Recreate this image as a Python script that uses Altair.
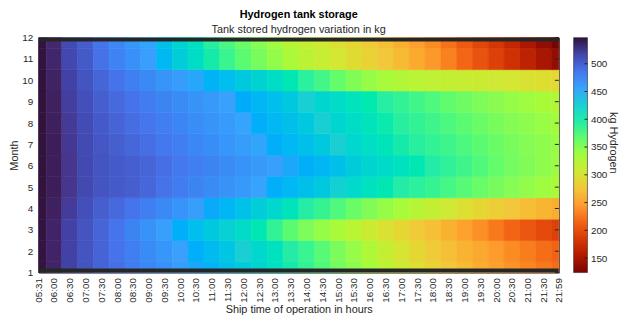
import altair as alt
import pandas as pd
import numpy as np

# ---------------- data ----------------
times = ["05:31", "06:00", "06:30", "07:00", "07:30", "08:00", "08:30", "09:00",
         "09:30", "10:00", "10:30", "11:00", "11:30", "12:00", "12:30", "13:00",
         "13:30", "14:00", "14:30", "15:00", "15:30", "16:00", "16:30", "17:00",
         "17:30", "18:00", "18:30", "19:00", "19:30", "20:00", "20:30", "21:00",
         "21:30", "21:59"]
months = [1, 2, 3, 4, 5, 6, 7, 8, 9, 10, 11, 12]

jan = [545, 534, 518, 507, 497, 490, 482, 475, 468, 460, 453, 446, 438, 430, 421, 410, 398,
       385, 372, 358, 347, 335, 322, 310, 298, 287, 277, 268, 258, 249, 240, 233, 226, 220]
feb = [545, 534, 518, 507, 497, 488, 480, 472, 465, 457, 450, 442, 434, 426, 418, 408, 396,
       383, 370, 355, 342, 330, 316, 302, 290, 280, 270, 262, 254, 245, 236, 228, 220, 214]
mar = [545, 534, 518, 507, 496, 487, 477, 467, 458, 450, 440, 432, 424, 414, 402, 386, 368,
       354, 343, 333, 323, 312, 300, 290, 280, 270, 260, 250, 238, 226, 215, 205, 196, 190]
apr = [545, 536, 521, 510, 500, 494, 487, 480, 473, 466, 459, 452, 445, 437, 428, 418, 406,
       395, 384, 373, 362, 352, 343, 334, 325, 316, 307, 298, 290, 283, 276, 269, 263, 258]
may = [546, 538, 524, 514, 507, 503, 500, 495, 488, 482, 477, 472, 467, 462, 456, 450, 444,
       438, 432, 425, 417, 409, 402, 396, 390, 384, 377, 370, 363, 356, 350, 344, 338, 333]
jun = [546, 538, 524, 514, 507, 503, 500, 496, 490, 485, 481, 477, 472, 467, 462, 458, 453,
       449, 445, 438, 430, 422, 415, 408, 402, 396, 388, 380, 372, 365, 358, 352, 346, 340]
jul = [546, 538, 523, 513, 505, 500, 495, 490, 485, 480, 475, 470, 465, 460, 455, 450, 444,
       438, 432, 426, 419, 412, 405, 398, 392, 386, 380, 374, 368, 362, 356, 351, 346, 341]
aug = [546, 537, 522, 512, 503, 497, 491, 486, 481, 476, 471, 466, 461, 456, 450, 444, 438,
       432, 426, 420, 413, 406, 399, 392, 386, 380, 374, 368, 362, 356, 351, 346, 341, 337]
sep = [546, 536, 520, 510, 500, 494, 488, 482, 477, 472, 467, 462, 457, 451, 445, 439, 432,
       426, 420, 414, 407, 400, 393, 386, 379, 373, 366, 360, 354, 348, 343, 338, 333, 328]
oct_ = [546, 535, 518, 507, 496, 488, 480, 473, 466, 460, 454, 447, 440, 432, 423, 413, 402,
        390, 378, 365, 352, 342, 334, 328, 323, 319, 316, 313, 310, 307, 304, 300, 296, 292]
nov = [546, 533, 515, 503, 489, 478, 468, 458, 443, 428, 413, 398, 382, 368, 356, 344, 332,
       322, 314, 304, 295, 286, 276, 266, 255, 243, 230, 216, 203, 190, 177, 163, 150, 138]
dec = [546, 532, 513, 501, 487, 475, 465, 455, 438, 422, 408, 392, 375, 362, 350, 338, 325,
       316, 308, 298, 289, 280, 270, 259, 248, 236, 222, 208, 194, 182, 168, 152, 138, 124]
values_by_month = [jan, feb, mar, apr, may, jun, jul, aug, sep, oct_, nov, dec]

color_min, color_max = 124, 547
colorbar_ticks = [150, 200, 250, 300, 350, 400, 450, 500]
turbo_colors = ["#30123b", "#4145ab", "#4675ed", "#39a2fc", "#1bcfd4", "#24eca6", "#61fc6c",
                "#a4fc3b", "#d1e834", "#f3c63a", "#fe9b2d", "#f36315", "#d93806", "#b11901",
                "#7a0403"]

# ---------------- table ----------------
def to_min(s):
    h, m = s.split(":")
    return int(h) * 60 + int(m)

tmin = [to_min(t) for t in times]
edges_x = [tmin[0]] + [(a + b) / 2 for a, b in zip(tmin[:-1], tmin[1:])] + [tmin[-1]]
rows = []
for m, vals in zip(months, values_by_month):
    for i, v in enumerate(vals):
        rows.append(dict(x0=edges_x[i], x1=edges_x[i + 1],
                         y0=max(1, m - 0.5), y1=min(12, m + 0.5),
                         kg=v, kg_edge=v, month=m, time=times[i]))
df = pd.DataFrame(rows)

W, H = 527, 238
PAD_L, PAD_T = 31, 28
CANVAS_W, CANVAS_H = 622, 309
CB_GAP, CB_W = 15, 14
FONT = "Liberation Sans"
TXT = "#262626"

stops = list(np.linspace(color_min, color_max, len(turbo_colors)))
cscale = alt.Scale(domain=stops, range=turbo_colors[::-1])
xscale = alt.Scale(domain=[tmin[0], tmin[-1]], nice=False, zero=False)
yscale = alt.Scale(domain=[1, 12], nice=False, zero=False)
label_expr = "timeFormat(datetime(2000, 0, 1, 0, datum.value), '%H:%M')"

yaxis = alt.Axis(values=months, ticks=False, domain=False, grid=False,
                 labelOverlap=False, labelFlush=False, labelBound=False,
                 labelPadding=6, title="Month", titlePadding=2,
                 titleFontWeight="normal")

heat = alt.Chart(df).mark_rect(strokeWidth=0.6).encode(
    x=alt.X("x0:Q", scale=xscale,
            axis=alt.Axis(values=tmin, labelExpr=label_expr, labelAngle=270,
                          labelFlush=False, labelOverlap=False, labelBound=False,
                          ticks=False, domain=False, grid=False, labelPadding=5,
                          title="Ship time of operation in hours", titlePadding=1,
                          titleFontWeight="normal")),
    x2="x1:Q",
    y=alt.Y("y0:Q", scale=yscale, axis=yaxis),
    y2="y1:Q",
    color=alt.Color("kg:Q", scale=cscale, legend=None),
    stroke=alt.Stroke("kg_edge:Q", scale=cscale, legend=None),
    tooltip=["month:Q", "time:N", "kg:Q"],
)

band_df = pd.DataFrame({"y0": [1, 12]})
bands = alt.Chart(band_df).mark_rule(color=TXT, strokeWidth=8, clip=True).encode(
    y=alt.Y("y0:Q", scale=yscale, axis=yaxis),
    x=alt.value(0), x2=alt.value(W),
)

tick_df = pd.DataFrame({"y0": months})
rticks = alt.Chart(tick_df).mark_rule(color=TXT, strokeWidth=1).encode(
    y=alt.Y("y0:Q", scale=yscale, axis=yaxis),
    x=alt.value(W - 4), x2=alt.value(W),
)

main = alt.layer(heat, bands, rticks)

# ---------------- colorbar (guide for the colour scale) ----------------
gradient = alt.LinearGradient(
    gradient="linear", x1=0, x2=0, y1=0, y2=1,
    stops=[alt.GradientStop(color=c, offset=k / (len(turbo_colors) - 1))
           for k, c in enumerate(turbo_colors)],
)
cb_df = pd.DataFrame({"v": colorbar_ticks})
cb_rect = alt.Chart(pd.DataFrame({"v": [color_min]})).mark_rect(
    fill=gradient, stroke=TXT, strokeWidth=0.6
).encode(
    x=alt.value(W + CB_GAP), x2=alt.value(W + CB_GAP + CB_W),
    y=alt.value(0), y2=alt.value(H),
)
cb_ticks = alt.Chart(cb_df).mark_rule(color=TXT, strokeWidth=1).encode(
    y=alt.Y("v:Q", scale=alt.Scale(domain=[color_min, color_max], nice=False, zero=False),
            axis=alt.Axis(orient="right", offset=CB_GAP + CB_W, values=colorbar_ticks,
                          ticks=False, domain=False, grid=False, labelPadding=3,
                          labelOverlap=False, labelFlush=False,
                          title="kg Hydrogen", titleAngle=90, titlePadding=1,
                          titleY=106, titleAlign="center", titleBaseline="bottom",
                          titleFontWeight="normal")),
    x=alt.value(W + CB_GAP + CB_W - 3), x2=alt.value(W + CB_GAP + CB_W),
)
cbar = alt.layer(cb_rect, cb_ticks)

chart = alt.layer(main, cbar).resolve_scale(y="independent").resolve_axis(
    y="independent"
).properties(
    width=W, height=H, background="white",
    autosize=alt.AutoSizeParams(type="none"),
    padding={"left": PAD_L, "top": PAD_T,
             "right": CANVAS_W - PAD_L - W, "bottom": CANVAS_H - PAD_T - H},
    title=alt.Title("Hydrogen tank storage",
                    subtitle="Tank stored hydrogen variation in kg",
                    anchor="middle", frame="group", fontSize=11, fontWeight="bold",
                    color="#000000", subtitleFontSize=11, subtitleColor=TXT,
                    subtitlePadding=4, offset=3, dy=5, font=FONT, subtitleFont=FONT),
).configure_view(stroke=TXT, strokeWidth=1).configure_axis(
    labelFont=FONT, titleFont=FONT, labelFontSize=10, titleFontSize=11,
    labelColor=TXT, titleColor=TXT, titleFontWeight="normal",
)

chart.save("out.html", embed_options={"renderer": "svg", "actions": False})
